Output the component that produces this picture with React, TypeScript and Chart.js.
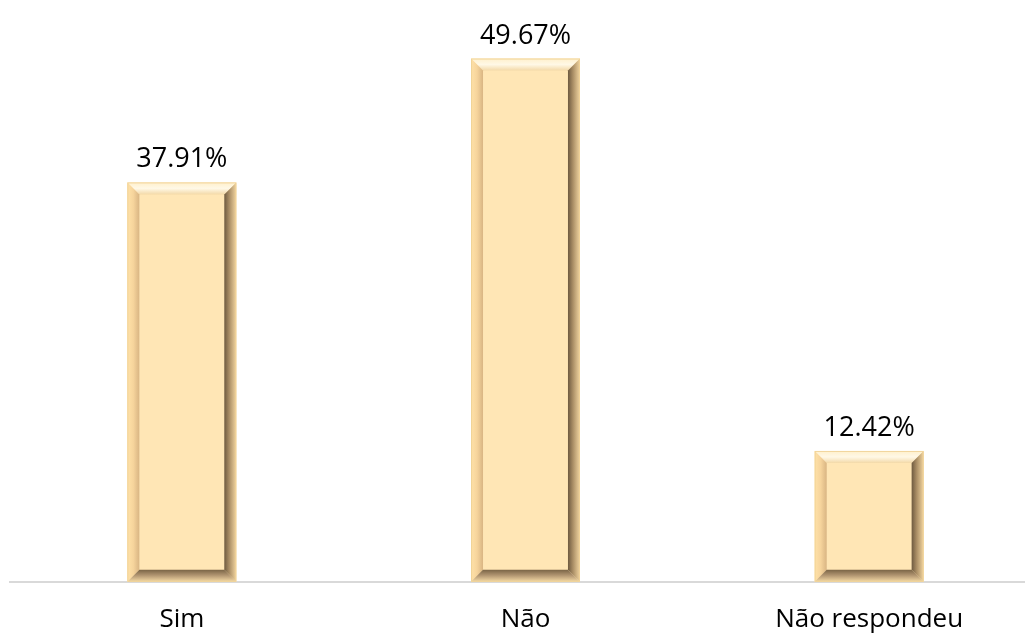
import React, { useEffect, useRef } from "react";
import { Chart, registerables } from "chart.js";

Chart.register(...registerables);

const categories = ["Sim", "Não", "Não respondeu"];
const values = [37.91, 49.67, 12.42];
const valueLabels = ["37.91%", "49.67%", "12.42%"];

const FONT = "'Open Sans', 'Noto Sans', sans-serif";

const bevelPlugin = {
  id: "bevel",
  afterDatasetsDraw(chart: any) {
    const ctx = chart.ctx as CanvasRenderingContext2D;
    const meta = chart.getDatasetMeta(0);
    meta.data.forEach((bar: any, i: number) => {
      const x0 = bar.x - bar.width / 2;
      const x1 = bar.x + bar.width / 2;
      const y0 = bar.y;
      const y1 = bar.base;
      const b = 12;
      ctx.save();
      // face
      ctx.fillStyle = "#FFE6B5";
      ctx.fillRect(x0, y0, x1 - x0, y1 - y0);
      // top bevel
      let g = ctx.createLinearGradient(0, y0, 0, y0 + b);
      g.addColorStop(0, "#FFF0CC");
      g.addColorStop(0.5, "#FFF8E6");
      g.addColorStop(1, "#F3D9A8");
      ctx.fillStyle = g;
      ctx.beginPath();
      ctx.moveTo(x0, y0);
      ctx.lineTo(x1, y0);
      ctx.lineTo(x1 - b, y0 + b);
      ctx.lineTo(x0 + b, y0 + b);
      ctx.closePath();
      ctx.fill();
      // left bevel
      g = ctx.createLinearGradient(x0, 0, x0 + b, 0);
      g.addColorStop(0, "#FFE2A8");
      g.addColorStop(0.5, "#F6D49C");
      g.addColorStop(1, "#D9B583");
      ctx.fillStyle = g;
      ctx.beginPath();
      ctx.moveTo(x0, y0);
      ctx.lineTo(x0 + b, y0 + b);
      ctx.lineTo(x0 + b, y1 - b);
      ctx.lineTo(x0, y1);
      ctx.closePath();
      ctx.fill();
      // right bevel
      g = ctx.createLinearGradient(x1 - b, 0, x1, 0);
      g.addColorStop(0, "#6E5A40");
      g.addColorStop(0.4, "#A88C64");
      g.addColorStop(1, "#F2D5A0");
      ctx.fillStyle = g;
      ctx.beginPath();
      ctx.moveTo(x1, y0);
      ctx.lineTo(x1, y1);
      ctx.lineTo(x1 - b, y1 - b);
      ctx.lineTo(x1 - b, y0 + b);
      ctx.closePath();
      ctx.fill();
      // bottom bevel
      g = ctx.createLinearGradient(0, y1 - b, 0, y1);
      g.addColorStop(0, "#7A6446");
      g.addColorStop(0.45, "#B09470");
      g.addColorStop(1, "#F5DAA6");
      ctx.fillStyle = g;
      ctx.beginPath();
      ctx.moveTo(x0, y1);
      ctx.lineTo(x1, y1);
      ctx.lineTo(x1 - b, y1 - b);
      ctx.lineTo(x0 + b, y1 - b);
      ctx.closePath();
      ctx.fill();
      // outline
      ctx.strokeStyle = "rgba(240,210,150,0.9)";
      ctx.lineWidth = 1;
      ctx.strokeRect(x0 + 0.5, y0 + 0.5, x1 - x0 - 1, y1 - y0 - 1);
      // value label
      ctx.fillStyle = "#000000";
      ctx.font = `27px ${FONT}`;
      ctx.textAlign = "center";
      ctx.textBaseline = "alphabetic";
      ctx.fillText(valueLabels[i], bar.x, y0 - 15);
      ctx.restore();
    });
  },
};

export default function App() {
  const ref = useRef<HTMLCanvasElement>(null);
  useEffect(() => {
    const chart = new Chart(ref.current!, {
      type: "bar",
      data: {
        labels: categories,
        datasets: [
          {
            data: values,
            backgroundColor: "rgba(0,0,0,0)",
            borderWidth: 0,
            barPercentage: 1,
            categoryPercentage: 0.317,
          },
        ],
      },
      options: {
        responsive: false,
        animation: false,
        devicePixelRatio: 1,
        layout: { padding: { top: 2.4, left: 10, right: 0, bottom: 12 } },
        plugins: {
          legend: { display: false },
          tooltip: { enabled: false },
        },
        scales: {
          x: {
            grid: { display: false, drawTicks: false },
            border: { display: true, color: "#D9D9D9", width: 2 },
            ticks: {
              color: "#000000",
              padding: 22,
              font: { family: FONT, size: 26 },
            },
          },
          y: {
            display: false,
            min: 0,
            max: 55,
          },
        },
      },
      plugins: [bevelPlugin],
    });
    return () => chart.destroy();
  }, []);
  return (
    <div
      style={{
        position: "absolute",
        left: 0,
        top: 0,
        width: 1025,
        height: 643,
        overflow: "hidden",
        background: "#FFFFFF",
      }}
    >
      <canvas ref={ref} width={1041} height={669} style={{ display: "block" }} />
    </div>
  );
}
